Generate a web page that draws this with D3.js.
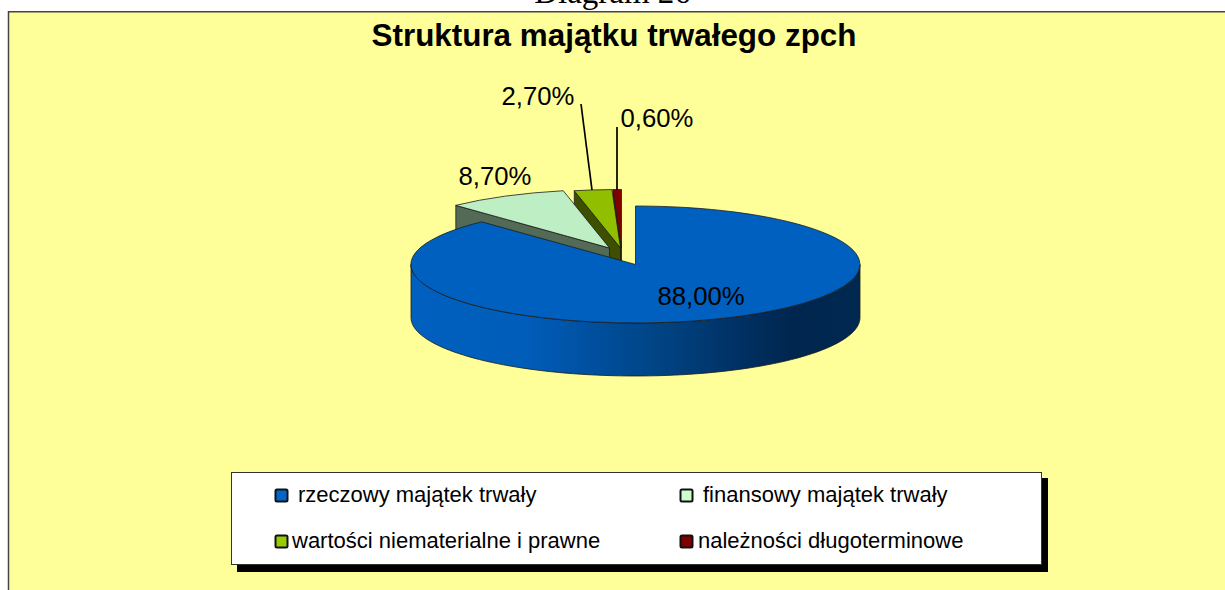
<!DOCTYPE html>
<html><head><meta charset="utf-8">
<script src="https://cdn.jsdelivr.net/npm/d3@7/dist/d3.min.js"></script>
<style>html,body{margin:0;padding:0;background:#fff;overflow:hidden}svg{display:block}</style>
</head><body><svg id="c" width="1225" height="590"></svg>
<script>
const categories=["rzeczowy majątek trwały","finansowy majątek trwały","wartości niematerialne i prawne","należności długoterminowe"];
const values=[88.0,8.7,2.7,0.6];
const labels=["88,00%","8,70%","2,70%","0,60%"];
const topColors=["#0060bf","#bdeec4","#92be00","#800000"];
const wallColors=["#004080","#536a57","#3f4f00","#400000"];
const legendColors=["#0066cc","#ccffcc","#99cc00","#800000"];

const cx=635.5,cy=264.5,rx=224.5,ry=58.5,depth=53;
const explode=[[0,0],[-26,-16.5],[-15,-16.5],[-14,-16.5]];
const labelPos=[[701,305],[495,185],[538,105],[657,127]];
const leaderEnds=[null,null,[592,190],[617,190]];
const leaderStarts=[null,null,[581,104],[617,127]];

const svg=d3.select("#c");
const defs=svg.append("defs");
const grad=defs.append("linearGradient").attr("id","wall").attr("gradientUnits","userSpaceOnUse")
 .attr("x1",cx-rx).attr("x2",cx+rx).attr("y1",0).attr("y2",0);
[[0,"#0060bf"],[0.25,"#005eba"],[0.42,"#004e9c"],[0.55,"#004484"],[0.75,"#002f60"],[0.85,"#00264f"],[1,"#002850"]]
 .forEach(([o,c])=>grad.append("stop").attr("offset",o).attr("stop-color",c));

svg.append("text").attr("x",612.5).attr("y",3).attr("text-anchor","middle")
 .attr("font-family","Liberation Serif").attr("font-size",33).attr("fill","#000").text("Diagram 26");
svg.append("rect").attr("x",8.5).attr("y",11.75).attr("width",1240).attr("height",600)
 .attr("fill","#ffff99").attr("stroke","#444").attr("stroke-width",1.5);
svg.append("text").attr("x",614).attr("y",46).attr("text-anchor","middle")
 .attr("font-family","Liberation Sans").attr("font-weight","bold").attr("font-size",31.4).attr("fill","#000")
 .text("Struktura majątku trwałego zpch");

const pie=d3.pie().sort(null).value(d=>d);
const arcs=pie(values);
// d3.arc on a unit circle, squashed to the tilted ellipse by a transform
const arc=d3.arc().innerRadius(0).outerRadius(1);
const pt=(a,i,dy=0)=>[cx+explode[i][0]+rx*Math.sin(a),cy+explode[i][1]+ry*-Math.cos(a)+dy];
const apex=(i,dy=0)=>[cx+explode[i][0],cy+explode[i][1]+dy];
const line=d3.line();

// outer front wall of a slice, swept along the ellipse edge
function outerWall(a0,a1,i){
 const n=90,top=[],bot=[];
 for(let k=0;k<=n;k++){const a=a0+(a1-a0)*k/n;top.push(pt(a,i));bot.push(pt(a,i,depth));}
 return line(top.concat(bot.reverse()))+"Z";
}
const order=[3,2,1,0];
order.forEach(i=>{
 const d=arcs[i],g=svg.append("g");
 const face=p=>g.append("path").attr("d",p).attr("fill",wallColors[i])
   .attr("stroke","#1c1c1c").attr("stroke-width",0.8).attr("stroke-linejoin","round");
 // cut faces that look toward the viewer
 const eps=1e-9;
 if(Math.sin(d.startAngle)<-eps) face(line([apex(i),pt(d.startAngle,i),pt(d.startAngle,i,depth),apex(i,depth)])+"Z");
 if(Math.sin(d.endAngle)>eps) face(line([apex(i),pt(d.endAngle,i),pt(d.endAngle,i,depth),apex(i,depth)])+"Z");
 // outer wall: only the front half of the ellipse shows
 const a0=Math.max(d.startAngle,Math.PI/2),a1=Math.min(d.endAngle,Math.PI*1.5);
 if(a1>a0) face(outerWall(a0,a1,i)).attr("fill",i===0?"url(#wall)":wallColors[i]);
 // top face
 const t=g.append("g").attr("transform",`translate(${apex(i)}) scale(${rx},${ry})`);
 t.append("path").attr("d",arc(d)).attr("fill",topColors[i])
  .attr("stroke","#1c1c1c").attr("stroke-width",0.8).attr("vector-effect","non-scaling-stroke");
});

leaderStarts.forEach((s,i)=>{ if(s) svg.append("path").attr("d",line([s,leaderEnds[i]])).attr("stroke","#000").attr("stroke-width",1.7).attr("fill","none"); });
labels.forEach((l,i)=>svg.append("text").attr("x",labelPos[i][0]).attr("y",labelPos[i][1]).attr("text-anchor","middle")
 .attr("font-family","Liberation Sans").attr("font-size",25.7).attr("fill","#000").text(l));

// legend
svg.append("rect").attr("x",237).attr("y",478).attr("width",811).attr("height",94).attr("fill","#000");
svg.append("rect").attr("x",231.5).attr("y",472.5).attr("width",810).attr("height",92).attr("fill","#fff").attr("stroke","#333");
const legendBox=[[276,490],[681,490],[276,536],[681,536]];
const legendText=[[298,502],[703,502],[292,548],[698,548]];
categories.forEach((c,i)=>{
 svg.append("rect").attr("x",legendBox[i][0]-0.5).attr("y",legendBox[i][1]-0.5).attr("width",12).attr("height",12).attr("rx",1.5)
  .attr("fill",legendColors[i]).attr("stroke","#111").attr("stroke-width",2);
 svg.append("text").attr("x",legendText[i][0]).attr("y",legendText[i][1]).attr("font-family","Liberation Sans").attr("font-size",22).attr("fill","#000").text(c);
});
</script></body></html>
